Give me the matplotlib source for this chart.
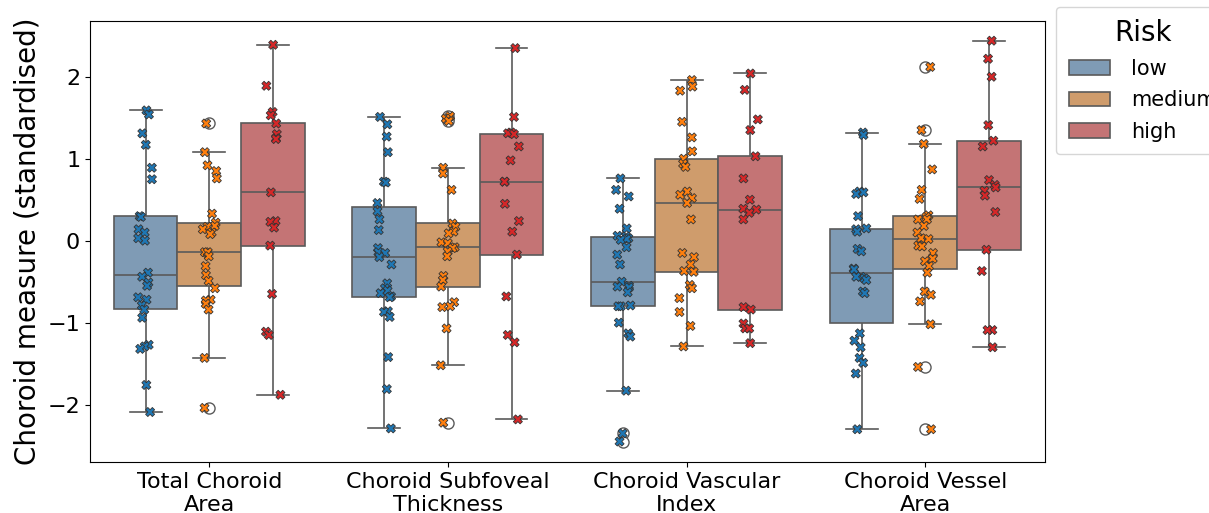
import numpy as np
import pandas as pd
import matplotlib
matplotlib.use("Agg")
import matplotlib.pyplot as plt
import seaborn as sns

# ==============================
# Data
# ==============================
measures = ["Total Choroid\nArea", "Choroid Subfoveal\nThickness",
            "Choroid Vascular\nIndex", "Choroid Vessel\nArea"]
risks = ["low", "medium", "high"]

tca_low = [1.59, 1.54, 1.31, 1.17, 0.89, 0.75, 0.30, 0.29, 0.14, 0.10, 0.03, -0.00, -0.39,
           -0.44, -0.51, -0.55, -0.69, -0.72, -0.79, -0.84, -0.94, -1.27, -1.29, -1.32, -1.76, -2.09]
tca_medium = [1.43, 1.08, 0.92, 0.85, 0.76, 0.33, 0.22, 0.18, 0.17, 0.14, 0.10, 0.08, -0.15,
              -0.14, -0.14, -0.19, -0.31, -0.42, -0.49, -0.58, -0.72, -0.73, -0.77, -0.84, -1.43, -2.04]
tca_high = [2.39, 1.89, 1.57, 1.53, 1.43, 1.30, 1.25, 1.24, 0.59, 0.24, 0.23, 0.16, -0.06,
            -0.65, -1.11, -1.15, -1.88]

cst_low = [1.51, 1.42, 1.27, 1.08, 0.72, 0.71, 0.46, 0.36, 0.26, 0.13, -0.09, -0.14, -0.15, -0.20,
           -0.29, -0.52, -0.58, -0.61, -0.64, -0.68, -0.69, -0.86, -0.87, -0.93, -1.42, -1.81, -2.29]
cst_medium = [1.52, 1.49, 1.46, 0.89, 0.82, 0.62, 0.21, 0.17, 0.11, 0.09, -0.02, -0.03, -0.08,
              -0.09, -0.13, -0.19, -0.43, -0.48, -0.56, -0.75, -0.80, -0.81, -1.07, -1.52, -2.22]
cst_high = [2.35, 1.51, 1.32, 1.31, 1.30, 1.15, 0.98, 0.72, 0.72, 0.45, 0.24, 0.11, -0.17,
            -0.68, -1.15, -1.24, -2.18]

cvi_low = [0.76, 0.62, 0.54, 0.39, 0.15, 0.06, 0.05, 0.03, 0.02, 0.01, -0.08, -0.17, -0.29, -0.50,
           -0.55, -0.56, -0.57, -0.63, -0.79, -0.80, -0.80, -1.00, -1.13, -1.17, -1.83, -2.35, -2.45]
cvi_medium = [1.96, 1.88, 1.83, 1.45, 1.26, 1.09, 1.00, 0.94, 0.90, 0.60, 0.56, 0.52, 0.46, 0.26,
              -0.15, -0.20, -0.29, -0.37, -0.38, -0.54, -0.58, -0.70, -0.87, -1.04, -1.29]
cvi_high = [2.04, 1.84, 1.48, 1.35, 1.03, 0.76, 0.50, 0.39, 0.38, 0.34, 0.26, -0.81, -0.84,
            -1.01, -1.07, -1.07, -1.25]

cva_low = [1.32, 1.29, 0.60, 0.59, 0.57, 0.30, 0.15, 0.14, 0.11, -0.10, -0.13, -0.34, -0.35,
           -0.44, -0.44, -0.46, -0.48, -0.62, -0.64, -1.13, -1.22, -1.30, -1.43, -1.49, -1.62, -2.30]
cva_medium = [2.12, 1.35, 1.18, 0.87, 0.62, 0.51, 0.31, 0.29, 0.26, 0.26, 0.18, 0.10, 0.03, 0.02,
              -0.06, -0.07, -0.15, -0.22, -0.25, -0.31, -0.39, -0.62, -0.66, -0.74, -1.02, -1.54, -2.30]
cva_high = [2.44, 2.22, 2.00, 1.41, 1.22, 1.15, 0.74, 0.68, 0.65, 0.61, 0.55, 0.35, -0.11,
            -0.37, -1.09, -1.09, -1.30]

groups = {
    measures[0]: [tca_low, tca_medium, tca_high],
    measures[1]: [cst_low, cst_medium, cst_high],
    measures[2]: [cvi_low, cvi_medium, cvi_high],
    measures[3]: [cva_low, cva_medium, cva_high],
}

rows = []
for m, series in groups.items():
    for r, vals in zip(risks, series):
        for v in vals:
            rows.append((m, r, v))
df = pd.DataFrame(rows, columns=["measure", "risk", "value"])

box_colors = ["#7f9bb5", "#cf9c6c", "#c47475"]
point_colors = ["#1f77b4", "#ff7f0e", "#d62728"]

# ==============================
# Plot
# ==============================
fig = plt.figure(figsize=(12.09, 5.13), dpi=100)
ax = fig.add_axes([0.0744, 0.0994, 0.7896, 0.8596])

sns.boxplot(data=df, x="measure", y="value", hue="risk", order=measures,
            hue_order=risks, palette=box_colors, saturation=1, ax=ax,
            linecolor="#5a5a5a", linewidth=1.2,
            flierprops=dict(marker="o", markerfacecolor="white",
                            markeredgecolor="#5a5a5a", markersize=8))

np.random.seed(3)
sns.stripplot(data=df, x="measure", y="value", hue="risk", order=measures,
              hue_order=risks, palette=point_colors, dodge=True, marker="X",
              size=6.5, edgecolor="#333333", linewidth=0.6, ax=ax, legend=False)

ax.set_xlim(-0.5, 3.5)
ax.set_ylim(-2.70, 2.68)
ax.set_yticks([-2, -1, 0, 1, 2])
ax.set_xlabel("")
ax.set_ylabel("Choroid measure (standardised)", fontsize=20)
ax.tick_params(axis="both", labelsize=16)

handles, labels = ax.get_legend_handles_labels()
ax.legend(handles[:3], labels[:3], title="Risk", loc="upper left",
          bbox_to_anchor=(1.012, 1.032), borderaxespad=0, fontsize=15,
          title_fontsize=20, handlelength=2.0, handletextpad=1.0,
          labelspacing=0.55, borderpad=0.6)

fig.savefig("out.png", dpi=100)
